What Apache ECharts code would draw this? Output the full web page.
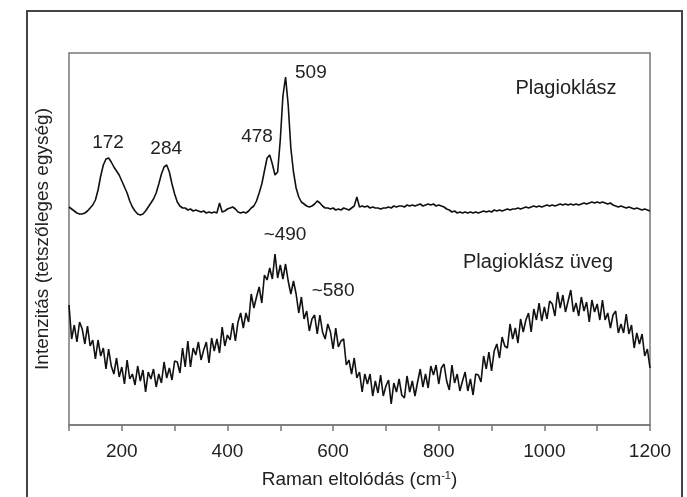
<!DOCTYPE html>
<html><head><meta charset="utf-8">
<script src="https://cdn.jsdelivr.net/npm/echarts@6/dist/echarts.min.js"></script>
<style>html,body{margin:0;padding:0;background:#fff}#c{width:687px;height:497px}</style>
</head><body><div id="c"></div>
<script>
// Raman shift (cm-1), 100..1200 step 5
const shiftStart = 100, shiftStep = 5;
// Plagioklász spectrum (arbitrary intensity)
const plagioklasz = [218,216,214,212,211,211,212,214,217,220,225,235,249,260,266,267,263,258,254,250,
244,238,232,224,218,214,211,210,211,214,218,222,226,232,241,251,258,260,253,241,
231,223,219,217,217,215,216,214,215,214,213,214,212,213,212,213,212,222,213,214,
216,217,218,216,213,212,213,212,214,217,219,224,232,241,254,267,270,261,250,253,
285,329,348,320,277,253,237,228,223,221,219,218,219,221,224,222,219,217,217,216,
217,215,216,215,217,216,215,217,219,228,218,219,218,219,217,218,217,217,216,217,
217,218,217,219,218,219,219,218,220,219,220,219,220,221,219,220,221,220,221,219,
220,219,218,216,215,213,214,212,213,212,213,212,213,212,213,212,213,214,213,214,
213,215,214,215,214,215,216,215,216,216,217,216,217,218,217,218,219,218,219,218,
219,220,219,220,219,220,221,220,221,220,221,220,221,220,221,222,221,222,223,222,
223,222,223,222,221,222,220,219,218,219,218,217,218,217,216,217,216,215,216,215,214];
// Plagioklász üveg (glass) spectrum (arbitrary intensity)
const uveg = [120,86,100,83,103,96,81,99,79,85,66,85,69,77,56,76,59,51,67,48,
58,41,65,46,51,40,59,44,55,33,53,46,56,38,51,42,63,47,57,45,
64,63,52,77,58,84,58,77,70,83,65,75,83,62,87,74,86,72,98,79,
90,85,102,84,103,112,97,112,103,131,117,128,138,122,150,145,157,146,171,147,
160,146,161,144,131,144,131,112,128,106,114,94,106,110,91,110,93,86,101,93,
76,97,78,84,86,60,65,51,67,47,53,33,51,41,51,29,44,32,50,29,
39,45,21,42,33,46,30,27,49,33,44,29,43,56,38,51,37,59,50,60,
41,57,61,44,35,60,42,51,34,44,53,34,46,30,51,50,43,69,56,73,
54,74,81,67,88,79,77,101,86,97,82,106,93,105,112,93,116,105,122,104,
118,106,124,121,109,133,117,130,113,124,135,113,122,109,128,114,123,103,125,113,
121,105,125,105,112,97,110,114,92,101,92,111,91,100,77,92,81,91,69,76,57];
// Annotations: [text, shift, intensity]
const peakLabels = [['172',174,282],['284',284,276],['478',456,288],['509',558,352],['~490',509,190],['~580',600,134]];
const seriesLabels = [['Plagioklász',1041,337],['Plagioklász üveg',988,163]];
const xTicks = [200,400,600,800,1000,1200];

const toPairs = arr => arr.map((v,i)=>[shiftStart+i*shiftStep, v]);
const font = 'Liberation Sans, Arial, sans-serif';
const chart = echarts.init(document.getElementById('c'));
const mp = (list, size) => ({
  symbol:'circle', symbolSize:0, silent:true, animation:false,
  itemStyle:{color:'rgba(0,0,0,0)'},
  label:{show:true, position:'inside', color:'#222', fontFamily:font, fontSize:size, formatter: p=>p.name},
  data: list.map(d=>({name:d[0], coord:[d[1], d[2]]}))
});
chart.setOption({
  animation:false,
  backgroundColor:'#fff',
  graphic:[{type:'rect', shape:{x:27,y:11,width:655,height:520}, style:{fill:'none', stroke:'#444', lineWidth:2}, silent:true}],
  grid:{left:69, top:53, right:37, bottom:72, show:true, borderColor:'#777', borderWidth:1.5},
  xAxis:{type:'value', min:100, max:1200, interval:100,
    name:'Raman eltolódás (cm{sup|-1})', nameLocation:'middle', nameGap:45,
    nameTextStyle:{color:'#222', fontFamily:font, fontSize:19, rich:{sup:{fontSize:11, verticalAlign:'top', padding:[0,0,8,0], color:'#222', fontFamily:font}}},
    axisLine:{show:true, lineStyle:{color:'#777', width:1.5}},
    axisTick:{show:true, length:6, lineStyle:{color:'#777', width:1.5}},
    splitLine:{show:false},
    axisLabel:{margin:17, color:'#222', fontFamily:font, fontSize:19, formatter: v => xTicks.includes(v) ? String(v) : ''}
  },
  yAxis:{type:'value', min:0, max:372,
    name:'Intenzitás (tetszőleges egység)', nameLocation:'middle', nameGap:17, nameRotate:90,
    nameTextStyle:{color:'#222', fontFamily:font, fontSize:19},
    axisLine:{show:false}, axisTick:{show:false}, axisLabel:{show:false}, splitLine:{show:false}
  },
  series:[
    {type:'line', data:toPairs(plagioklasz), symbol:'none', lineStyle:{color:'#111', width:1.6}, z:3,
     markPoint: mp(peakLabels, 19)},
    {type:'line', data:toPairs(uveg), symbol:'none', lineStyle:{color:'#111', width:1.6}, z:2,
     markPoint: mp(seriesLabels, 20)}
  ]
});
</script></body></html>
